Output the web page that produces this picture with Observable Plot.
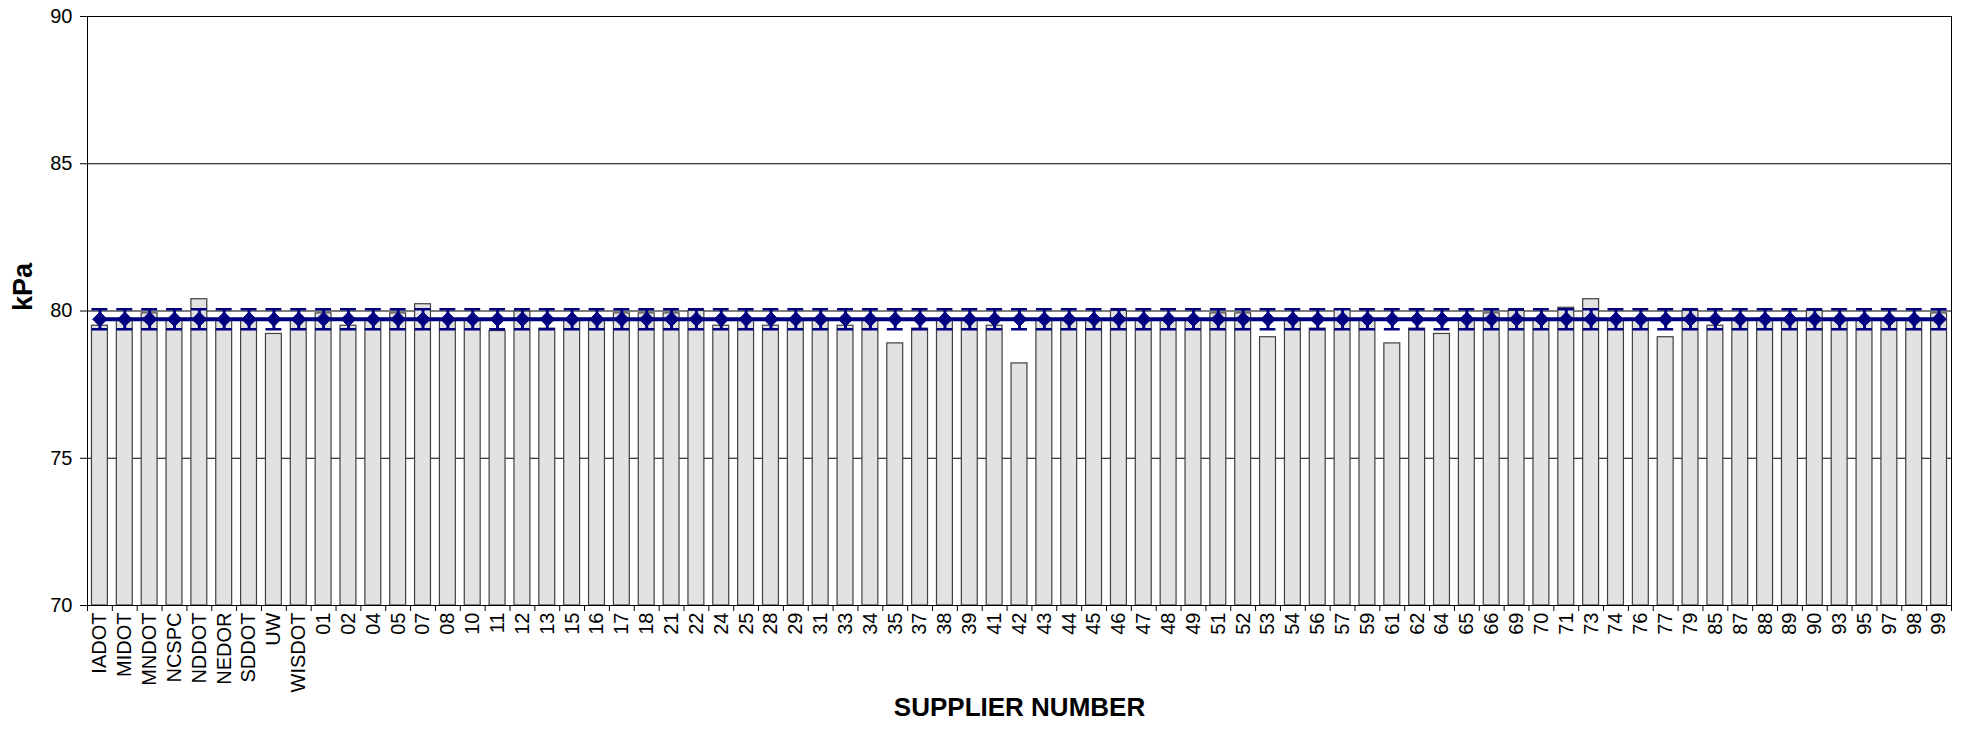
<!DOCTYPE html>
<html>
<head>
<meta charset="utf-8">
<script src="https://cdn.jsdelivr.net/npm/d3@7"></script>
<script src="https://cdn.jsdelivr.net/npm/@observablehq/plot@0.6"></script>
<style>
  html, body { margin: 0; padding: 0; background: #fff; }
  #chart svg { display: block; font-family: "Liberation Sans", Arial, sans-serif; }
</style>
</head>
<body>
<div id="chart"></div>
<script>
const categories = ["IADOT","MIDOT","MNDOT","NCSPC","NDDOT","NEDOR","SDDOT","UW","WISDOT",
  "01","02","04","05","07","08","10","11","12","13","15","16","17","18","21","22","24","25","28","29",
  "31","33","34","35","37","38","39","41","42","43","44","45","46","47","48","49","51","52","53","54",
  "56","57","59","61","62","64","65","66","69","70","71","73","74","76","77","79","85","87","88","89",
  "90","93","95","97","98","99"];

const kPaValues = [79.50,79.70,79.92,79.70,80.40,79.70,79.70,79.22,79.70,
  79.92,79.50,79.70,79.92,80.23,79.70,79.70,79.32,79.98,79.40,79.70,79.70,79.92,79.92,79.92,80.00,79.50,79.70,79.50,79.70,
  79.70,79.50,79.70,78.90,79.40,79.70,79.70,79.50,78.22,79.70,79.70,79.70,80.00,79.70,79.70,79.70,79.92,79.92,79.11,79.70,
  79.40,80.06,79.70,78.90,79.40,79.22,79.70,79.92,80.00,79.70,80.11,80.40,79.70,79.70,79.11,80.00,79.50,79.70,79.70,79.70,
  80.00,79.70,79.70,79.70,79.70,79.92];

const meanValue = 79.72;
const errorLow = 79.38;
const errorHigh = 80.06;

const yDomain = [70, 90];
const yTicks = [70, 75, 80, 85, 90];
const gridTicks = [75, 80, 85];

const data = categories.map((c, i) => ({
  supplier: c, kPa: kPaValues[i], mean: meanValue, low: errorLow, high: errorHigh, base: yDomain[0]
}));

const W = 1965, H = 732, ML = 87, MR = 14, MT = 16, MB = 127;
const step = (W - ML - MR) / categories.length;
const navy = "#000080";

const chart = Plot.plot({
  width: W, height: H,
  marginLeft: ML, marginRight: MR, marginTop: MT, marginBottom: MB,
  style: {fontFamily: "'Liberation Sans', Arial, sans-serif", color: "#000", background: "#fff"},
  x: {type: "band", domain: categories, paddingInner: 0.36, paddingOuter: 0.18, label: null},
  y: {domain: yDomain, label: null},
  marks: [
    Plot.gridY(gridTicks, {stroke: "#000", strokeOpacity: 1, strokeWidth: 1}),
    Plot.barY(data, {x: "supplier", y1: "base", y2: "kPa", fill: "#e2e2e2", stroke: "#404040", strokeWidth: 1.2}),
    Plot.ruleX(data, {x: "supplier", y1: "low", y2: "high", stroke: navy, strokeWidth: 3}),
    Plot.tickY(data, {x: "supplier", y: "high", stroke: navy, strokeWidth: 2.5}),
    Plot.tickY(data, {x: "supplier", y: "low", stroke: navy, strokeWidth: 2.5}),
    Plot.lineY(data, {x: "supplier", y: "mean", stroke: navy, strokeWidth: 4}),
    Plot.dot(data, {x: "supplier", y: "mean", symbol: "diamond2", r: 6.5, fill: navy, stroke: navy, strokeWidth: 1}),
    Plot.frame({stroke: "#000", strokeWidth: 1}),
    Plot.axisY({ticks: yTicks, tickSize: 7, tickPadding: 8, fontSize: 20, label: null, tickFormat: d => String(d)}),
    Plot.axisX({tickSize: 6, dx: -step / 2, tickFormat: () => "", label: null}),
    Plot.axisX([categories[categories.length - 1]], {tickSize: 6, dx: step / 2, tickFormat: () => "", label: null}),
    Plot.axisX({tickSize: 0, tickPadding: 7, tickRotate: -90, fontSize: 20, label: null}),
    Plot.text(["kPa"], {frameAnchor: "left", dx: -64, rotate: -90, fontSize: 27, fontWeight: "bold", fill: "#000"}),
    Plot.text(["SUPPLIER NUMBER"], {frameAnchor: "bottom", dy: 110, fontSize: 26, fontWeight: "bold", fill: "#000"})
  ]
});
document.getElementById("chart").appendChild(chart);
</script>
</body>
</html>
